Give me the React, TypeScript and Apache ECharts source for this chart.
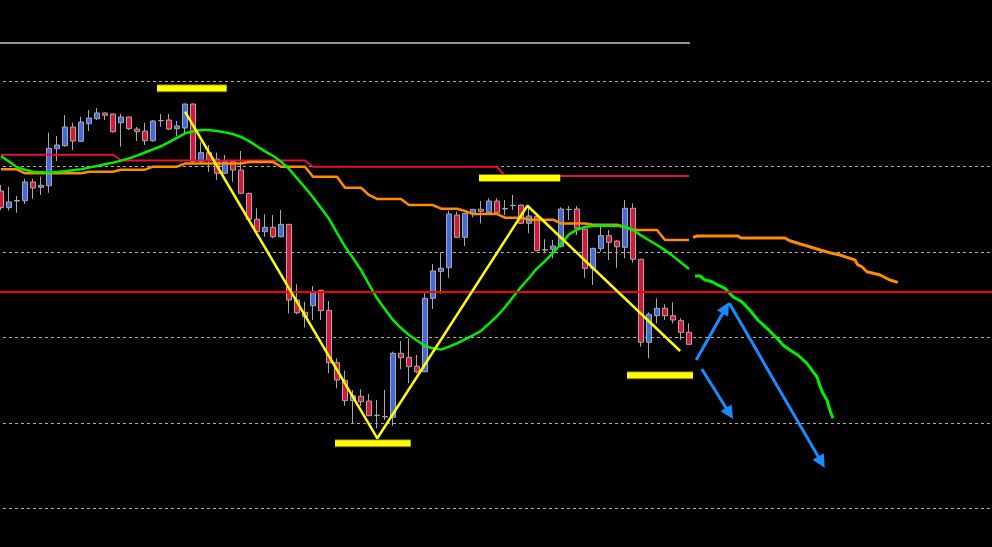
import React, { useEffect, useRef } from "react";
import * as echarts from "echarts";

// Bar slots on the time axis (history + projection area)
const SLOT_COUNT = 125;

// Candles: [open, close, low, high]
const candles: number[][] = [
  [137.15, 135.2, 134.93, 137.86], [135.2, 135.87, 134.85, 137.66], [136.04, 135.98, 134.61, 136.57],
  [136.02, 138.21, 135.63, 138.59], [138.21, 137.51, 136.25, 138.59], [137.59, 137.82, 136.69, 138.83],
  [137.77, 142.15, 136.95, 143.98], [142.11, 142.54, 140.67, 143.59], [142.46, 144.65, 142.34, 146.05],
  [144.65, 143.01, 141.96, 145.15], [142.97, 145.23, 142.89, 145.85], [145.03, 145.7, 144.18, 146.64],
  [145.62, 146.29, 145.47, 146.87], [146.29, 146.02, 145.47, 146.33], [146.17, 144.1, 143.98, 146.2],
  [145.15, 145.82, 142.34, 146.17], [145.82, 144.45, 144.3, 145.85], [144.41, 144.1, 143.01, 144.65],
  [144.18, 143.04, 142.54, 145.15], [143.04, 145.35, 142.93, 145.47], [145.41, 145.38, 144.68, 146.17],
  [145.47, 144.41, 144.3, 146.17], [144.45, 144.77, 143.59, 145.35], [144.53, 147.34, 143.95, 147.4],
  [147.34, 140.59, 140.4, 147.4], [140.59, 141.64, 140.4, 142.93], [141.64, 140.78, 139.41, 142.54],
  [140.87, 139.23, 138.44, 141.64], [139.23, 140.59, 139.15, 141.37], [140.59, 139.61, 138.24, 140.65],
  [139.61, 136.88, 136.8, 141.84], [136.88, 133.84, 133.8, 136.95], [133.84, 132.39, 131.88, 135.13],
  [132.39, 132.9, 131.8, 134.43], [132.9, 131.8, 131.62, 134.34], [131.8, 133.25, 131.73, 134.93],
  [133.25, 124.39, 122.83, 133.3], [124.39, 122.9, 122.72, 126.23], [122.95, 122.43, 121.15, 124.19],
  [123.72, 125.25, 122.05, 126.03], [125.53, 123.14, 122.05, 125.6], [123.18, 117.05, 115.81, 124.27],
  [117.05, 115.02, 114.05, 117.56], [114.99, 112.6, 112.01, 116.11], [112.6, 113.18, 109.95, 113.85],
  [113.11, 112.48, 111.98, 113.93], [112.56, 110.84, 110.8, 113.38], [110.9, 110.86, 109.37, 112.68],
  [110.75, 110.72, 110.34, 113.85], [110.65, 118.15, 109.67, 118.34], [118.15, 117.63, 116.28, 119.59],
  [117.68, 116.58, 114.64, 119.91], [116.63, 115.99, 115.81, 117.95], [115.99, 124.59, 115.95, 125.17],
  [124.59, 127.79, 123.34, 128.61], [127.75, 128.1, 125.13, 129.98], [128.17, 134.46, 127.0, 134.85],
  [134.34, 131.73, 131.7, 134.73], [131.73, 134.54, 130.71, 134.61], [134.54, 135.01, 134.07, 135.05],
  [135.01, 134.78, 133.37, 135.98], [134.61, 135.98, 134.54, 136.3], [135.98, 134.61, 134.54, 136.3],
  [135.09, 135.05, 134.34, 136.1], [135.48, 135.45, 134.93, 136.69], [135.51, 133.37, 133.3, 135.55],
  [133.37, 134.23, 132.2, 135.51], [134.14, 130.16, 130.1, 134.61], [130.29, 130.25, 129.86, 131.5],
  [130.33, 130.71, 129.27, 131.42], [130.63, 135.05, 130.56, 135.25], [135.01, 134.98, 133.76, 135.4],
  [135.05, 132.79, 132.0, 135.4], [132.7, 128.1, 127.0, 132.75], [128.1, 130.44, 126.15, 130.5],
  [130.4, 131.92, 130.05, 132.97], [131.92, 131.15, 129.07, 132.59], [131.3, 130.63, 128.17, 131.4],
  [130.56, 135.13, 129.27, 136.1], [135.13, 129.16, 128.76, 135.71], [129.16, 119.44, 118.92, 129.2],
  [119.44, 122.72, 117.56, 122.95], [122.55, 123.42, 121.66, 124.59], [123.42, 122.55, 122.05, 123.89],
  [122.55, 122.05, 121.66, 124.12], [121.97, 120.61, 119.71, 122.25], [120.61, 119.2, 119.12, 121.66],
];

// Moving average (green), one value per bar
const maGreen: number[] = [
  141.25, 140.61, 139.93, 139.64, 139.41, 139.36, 139.3, 139.38, 139.47, 139.59,
  139.71, 139.89, 140.08, 140.28, 140.48, 140.71, 140.97, 141.29, 141.66, 142.03,
  142.39, 142.88, 143.38, 143.91, 144.12, 144.3, 144.3, 144.18, 144.02, 143.82,
  143.48, 143.0, 142.4, 141.8, 141.28, 140.6, 139.75, 138.65, 137.56, 136.42,
  135.16, 133.91, 132.24, 130.63, 129.31, 127.91, 126.22, 124.59, 123.31, 122.05,
  121.11, 120.29, 119.64, 119.0, 118.73, 118.58, 118.94, 119.31, 119.79, 120.26,
  120.78, 121.63, 122.49, 123.54, 124.74, 125.91, 126.97, 128.1, 128.93, 129.89,
  130.95, 132.08, 132.63, 132.94, 133.06, 133.11, 133.09, 133.07, 132.96, 132.59,
  131.95, 131.39, 130.83, 130.23, 129.53, 128.78, 128.02,
];

// Stepped baseline (orange), one value per bar
const baseOrange: number[] = [
  139.7, 139.7, 139.7,
  139.23, 139.23, 139.23, 139.23, 139.23, 139.23, 139.23, 139.23,
  139.41, 139.41, 139.41, 139.41,
  139.65, 139.65, 139.65, 139.65,
  140.0, 140.0, 140.0, 140.0,
  140.37, 140.37, 140.37, 140.37, 140.37, 140.37, 140.37, 140.37,
  140.55, 140.55, 140.55, 140.55,
  140.0, 140.0, 140.0, 140.0,
  138.83, 138.83, 138.83, 138.83,
  137.54, 137.54, 137.54,
  136.69,
  136.22, 136.22, 136.22, 136.22,
  135.51, 135.51, 135.51, 135.51,
  135.08, 135.08, 135.08,
  134.81,
  134.46, 134.46, 134.46, 134.46,
  134.03, 134.03, 134.03,
  133.79, 133.79, 133.79, 133.79,
  133.35, 133.35, 133.35, 133.35,
  133.21, 133.21, 133.21, 133.21,
  132.94,
  132.59, 132.59, 132.59, 132.59,
  131.42, 131.42, 131.42, 131.42,
];

// Stepped level (crimson), one value per bar
const levelRed: number[] = [
  ...Array(15).fill(141.4),
  ...Array(24).fill(140.73),
  ...Array(24).fill(140.0),
  ...Array(24).fill(138.91),
];

// Projected paths beyond the last bar: [bar index, price]
const projOrange: number[][] = [
  [86.5, 131.73], [87, 131.88], [92.1, 131.88], [92.5, 131.65], [98, 131.65],
  [98.6, 131.33], [99.9, 130.95], [101.1, 130.63], [102.4, 130.25], [103.6, 129.93],
  [104.9, 129.66], [105.75, 129.39], [106.75, 129.07], [107.1, 128.49], [107.6, 128.29],
  [108.25, 127.7], [109.9, 127.32], [111.1, 126.73], [112.1, 126.46],
];
const projGreen: number[][] = [
  [86.75, 127.2], [87.4, 127.2], [88, 126.73], [88.9, 126.53], [89.6, 126.15],
  [90.5, 125.76], [90.9, 125.36], [91.5, 124.78], [92.6, 124.19], [93.6, 123.22],
  [94.6, 122.05], [95.75, 121.08], [97, 119.91], [97.75, 119.12], [98.6, 118.53],
  [99.6, 117.95], [100.75, 116.98], [101.5, 115.99], [102, 115.41], [102.4, 114.24],
  [102.75, 113.46], [103.25, 112.68], [103.6, 111.51], [104, 110.54],
];

// Swing zigzag: [bar index, price]
const zigzag: number[][] = [[23, 146.44], [47.04, 108.2], [65.8, 135.43], [84.9, 118.42]];

// Swing markers: [from bar, to bar, price]
const swingMarks: number[][] = [
  [19.5, 28.2, 149.18],
  [59.75, 69.9, 138.68],
  [41.75, 51.2, 107.61],
  [78.25, 86.5, 115.57],
];

// Scenario arrows: [from bar, from price, to bar, to price]
const arrows: number[][] = [
  [86.9, 117.36, 90.6, 123.48],
  [87.6, 116.31, 91.07, 111.11],
  [91.04, 124.0, 102.56, 105.4],
];

const supportLevel = 125.33;
const upperRange = { from: -0.125, to: 86.125, price: 154.49 };

const categories = Array.from({ length: SLOT_COUNT }, (_, i) => String(i));

export default function App() {
  const ref = useRef<HTMLDivElement>(null);

  useEffect(() => {
    if (!ref.current) return;
    const chart = echarts.init(ref.current, undefined, { renderer: "svg" });

    const lineBase = {
      type: "line" as const,
      symbol: "none",
      silent: true,
      animation: false,
    };

    const markSeries: any[] = [];
    swingMarks.forEach(([a, b, p]) => {
      markSeries.push({
        ...lineBase,
        xAxisIndex: 1,
        data: [[a, p], [b, p]],
        lineStyle: { color: "#6e6e00", width: 8, cap: "butt" },
        z: 6,
      });
      markSeries.push({
        ...lineBase,
        xAxisIndex: 1,
        data: [[a, p], [b, p]],
        lineStyle: { color: "#ffff00", width: 6, cap: "butt" },
        z: 7,
      });
    });

    chart.setOption({
      animation: false,
      backgroundColor: "#000000",
      grid: {
        left: -3,
        top: -4.1,
        width: 1000,
        height: 597.8,
        containLabel: false,
        outerBoundsMode: "none",
      },
      xAxis: [
        { type: "category", data: categories, boundaryGap: true, show: false },
        { type: "value", min: -0.5, max: SLOT_COUNT - 0.5, show: false },
      ],
      yAxis: {
        type: "value",
        min: 90,
        max: 160,
        interval: 10,
        axisLine: { show: false },
        axisTick: { show: false },
        axisLabel: { show: false },
        splitLine: {
          show: true,
          lineStyle: { color: "#b0b0b0", width: 1, type: [3, 3] },
        },
      },
      series: [
        {
          type: "candlestick",
          xAxisIndex: 0,
          data: candles,
          barWidth: 5,
          silent: true,
          itemStyle: {
            color: "#4169e1",
            color0: "#dc143c",
            borderColor: "#a9a9a9",
            borderColor0: "#a9a9a9",
            borderWidth: 1,
          },
          z: 2,
        },
        {
          ...lineBase,
          xAxisIndex: 1,
          data: [[upperRange.from, upperRange.price], [upperRange.to, upperRange.price]],
          lineStyle: { color: "#8896a6", width: 2 },
          z: 3,
        },
        {
          ...lineBase,
          xAxisIndex: 0,
          data: levelRed,
          lineStyle: { color: "#e8103a", width: 2 },
          z: 3,
        },
        {
          ...lineBase,
          xAxisIndex: 0,
          data: baseOrange,
          lineStyle: { color: "#ff8c00", width: 2.5 },
          z: 3,
        },
        {
          ...lineBase,
          xAxisIndex: 0,
          data: maGreen,
          lineStyle: { color: "#00f000", width: 2.5 },
          z: 4,
        },
        {
          ...lineBase,
          xAxisIndex: 1,
          data: projOrange,
          lineStyle: { color: "#ff8c00", width: 3 },
          z: 4,
        },
        {
          ...lineBase,
          xAxisIndex: 1,
          data: projGreen,
          lineStyle: { color: "#00f000", width: 3 },
          z: 4,
        },
        {
          ...lineBase,
          xAxisIndex: 1,
          data: [[-0.5, supportLevel], [SLOT_COUNT - 0.5, supportLevel]],
          lineStyle: { color: "#ff0000", width: 2 },
          z: 5,
        },
        {
          ...lineBase,
          xAxisIndex: 1,
          data: zigzag,
          lineStyle: { color: "#ffff00", width: 2.5 },
          z: 6,
        },
        ...markSeries,
        {
          type: "lines",
          coordinateSystem: "cartesian2d",
          xAxisIndex: 1,
          yAxisIndex: 0,
          silent: true,
          symbol: ["none", "triangle"],
          symbolSize: 13,
          lineStyle: { color: "#1a8cff", width: 3, opacity: 1 },
          data: arrows.map(([x1, y1, x2, y2]) => ({ coords: [[x1, y1], [x2, y2]] })),
          z: 8,
        },
      ],
    });

    return () => chart.dispose();
  }, []);

  return (
    <div
      ref={ref}
      style={{ position: "fixed", left: 0, top: 0, width: 992, height: 547, background: "#000" }}
    />
  );
}
